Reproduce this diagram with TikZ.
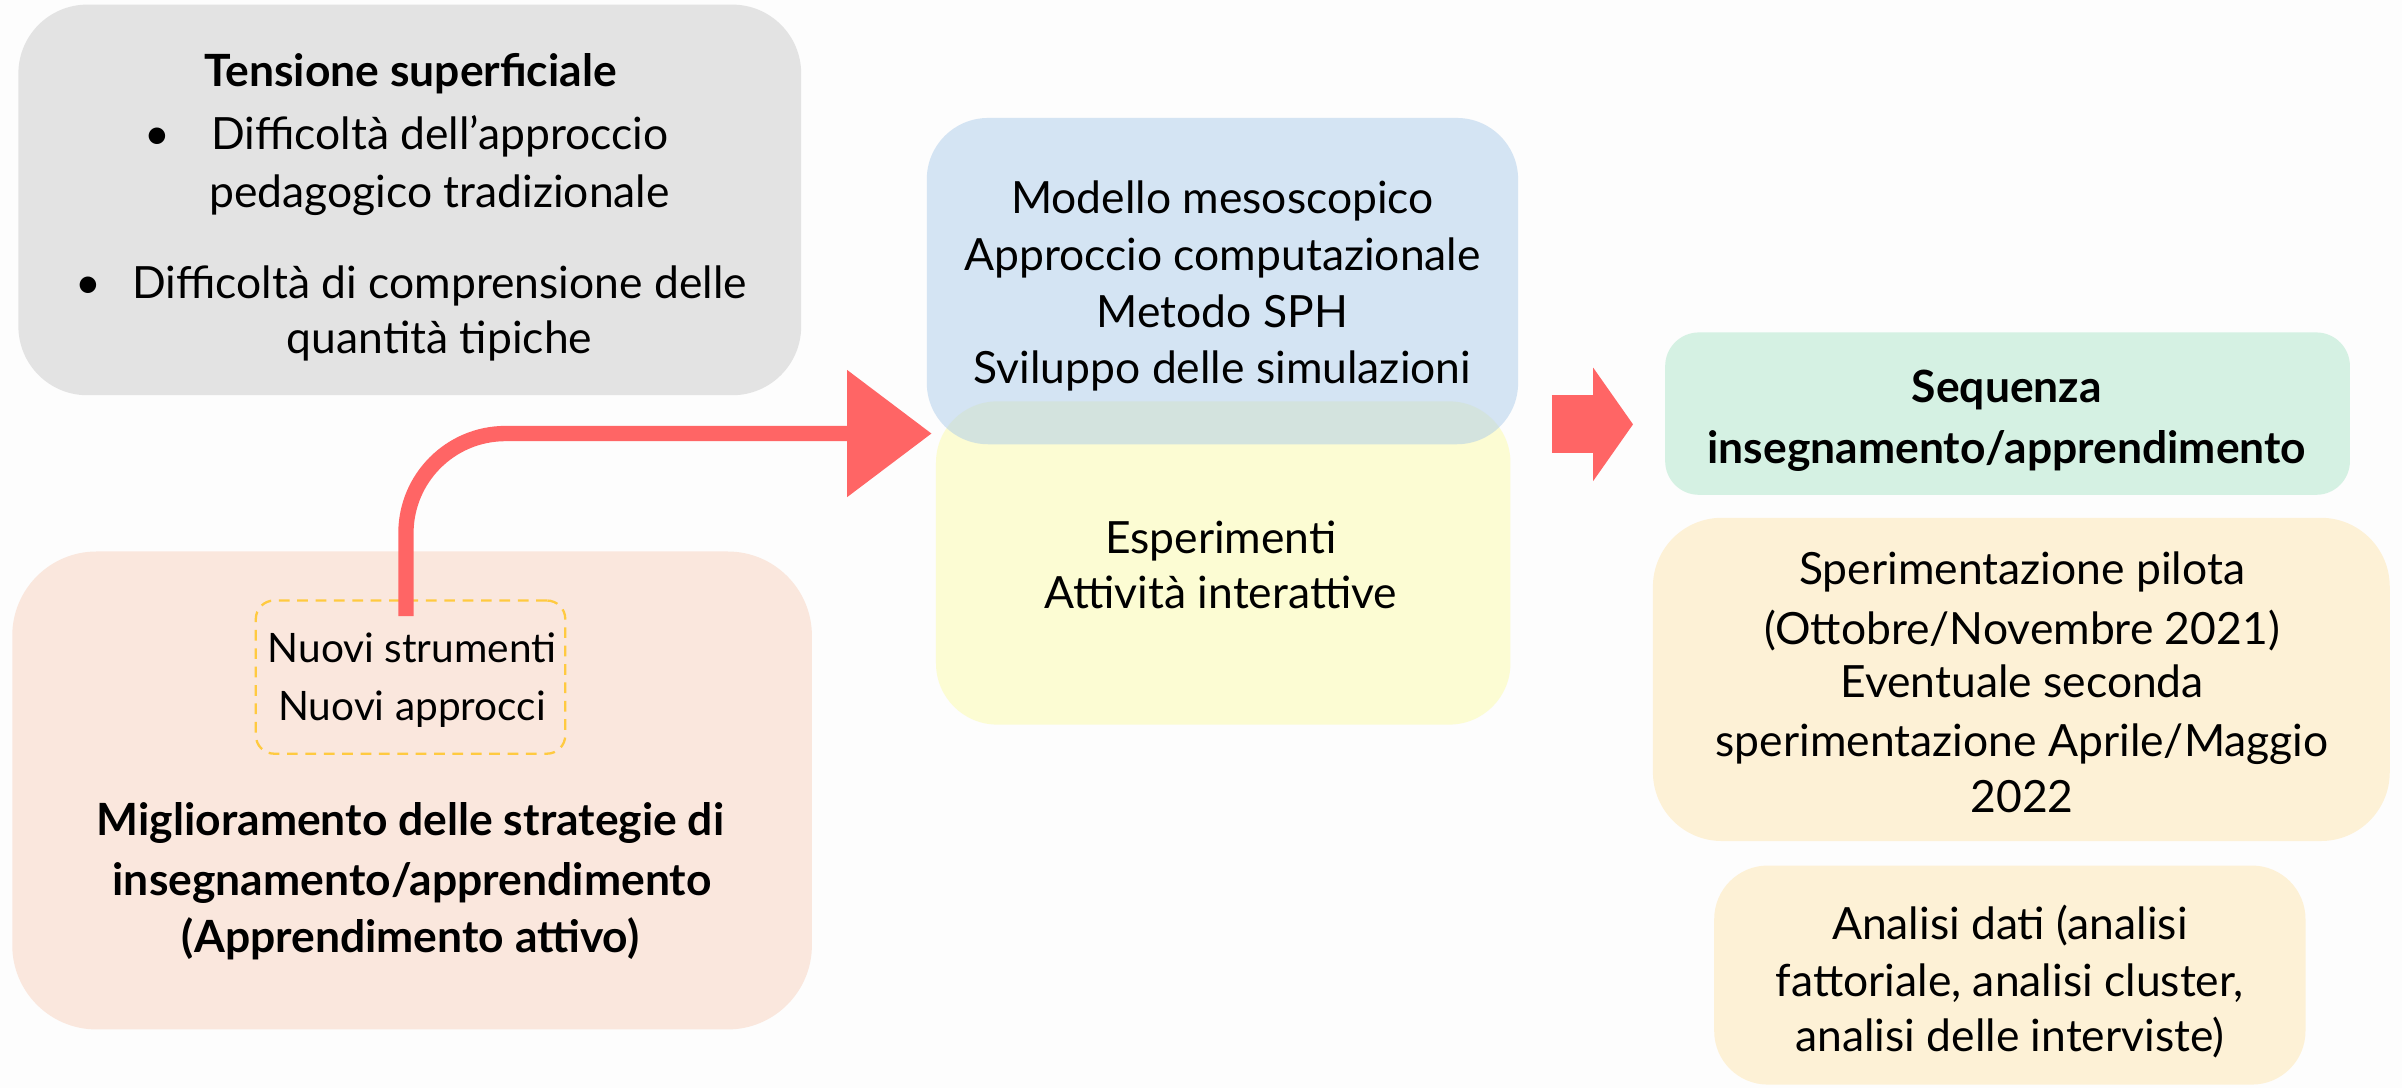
\documentclass[tikz,border=0pt]{standalone}
\usepackage{fontspec}
\setmainfont{Lato}
\usetikzlibrary{arrows.meta}
\definecolor{bgc}{HTML}{FDFDFD}
\definecolor{grayc}{HTML}{E3E3E3}
\definecolor{peachc}{HTML}{FAE7DD}
\definecolor{bluec}{RGB}{172,204,234}
\definecolor{yellowc}{HTML}{FCFCD3}
\definecolor{greenc}{HTML}{D5F1E3}
\definecolor{creamc}{HTML}{FDF1D6}
\definecolor{redc}{HTML}{FF6565}
\definecolor{dashc}{HTML}{FFCA40}
\begin{document}
\begin{tikzpicture}[x=1pt,y=-1pt,
  panel/.style={rectangle,inner sep=0pt,draw=none},
  txt/.style={anchor=mid,inner sep=0pt,yshift=-7pt,font=\fontsize{29}{38}\selectfont},
  btxt/.style={txt,font=\fontsize{29}{38}\selectfont\bfseries},
  stxt/.style={txt,font=\fontsize{26.5}{34}\selectfont}]
\fill[bgc] (0,0) rectangle (1568,710);
\useasboundingbox (0,0) rectangle (1568,710);
% left boxes
\node[panel,fill=grayc,rounded corners=45pt,minimum width=511pt,minimum height=255pt] (grayb) at (267.5,130.5) {};
\node[panel,fill=peachc,rounded corners=55pt,minimum width=522pt,minimum height=312pt] (peachb) at (269,516) {};
\node[panel,draw=dashc,line width=1.5pt,dash pattern=on 7pt off 5pt,rounded corners=12pt,minimum width=202pt,minimum height=100pt] (dashb) at (268,442) {};
% middle boxes
\node[panel,fill=yellowc,rounded corners=40pt,minimum width=375pt,minimum height=211pt] (yellowb) at (798.5,367.5) {};
\node[panel,fill=bluec,fill opacity=0.5,rounded corners=40pt,minimum width=386pt,minimum height=213pt] (blueb) at (798,183.5) {};
% right boxes
\node[panel,fill=greenc,rounded corners=22pt,minimum width=447pt,minimum height=106pt] (greenb) at (1310.5,270) {};
\node[panel,fill=creamc,rounded corners=45pt,minimum width=481pt,minimum height=211pt] (creamb) at (1319.5,443.5) {};
\node[panel,fill=creamc,rounded corners=35pt,minimum width=386pt,minimum height=143pt] (creamc2) at (1312,636.5) {};
% arrows
\coordinate (tipA) at (608,283);
\draw[redc,line width=10pt,rounded corners=65pt,-{Triangle[length=55pt,width=83pt,line width=0pt]}]
  ([xshift=-3pt,yshift=-11pt]dashb.north) |- (tipA);
\coordinate (sa1) at (1013,277);
\coordinate (sa2) at (1066,277);
\draw[redc,line width=38pt,-{Triangle[length=26pt,width=74pt,line width=0pt]}] (sa1) -- (sa2);
% texts gray
\node[btxt] (g0) at (268,47) {Tensione superficiale};
\node[txt] (gb1) at (103,88) {•};
\node[txt] (g1) at (287,88) {Difficoltà dell’approccio};
\node[txt] (g2) at (287,126) {pedagogico tradizionale};
\node[txt] (gb2) at (58,185) {•};
\node[txt] (g3) at (287,185) {Difficoltà di comprensione delle};
\node[txt] (g4) at (287,221) {quantità tipiche};
% texts peach
\node[stxt] (p1) at (269,423) {Nuovi strumenti};
\node[stxt] (p2) at (269,461) {Nuovi approcci};
\node[btxt] (p3) at (268,536) {Miglioramento delle strategie di};
\node[btxt] (p4) at (269,575) {insegnamento/apprendimento};
\node[btxt] (p5) at (268,612) {(Apprendimento attivo)};
% texts blue / yellow
\node[txt] (b1) at (798,130) {Modello mesoscopico};
\node[txt] (b2) at (798,167) {Approccio computazionale};
\node[txt] (b3) at (798,204) {Metodo SPH};
\node[txt] (b4) at (798,241) {Sviluppo delle simulazioni};
\node[txt] (y1) at (797,352) {Esperimenti};
\node[txt] (y2) at (797,388) {Attività interattive};
% texts right
\node[btxt] (s1) at (1310,253) {Sequenza};
\node[btxt] (s2) at (1310,293) {insegnamento/apprendimento};
\node[txt] (c1) at (1320,372) {Sperimentazione pilota};
\node[txt] (c2) at (1320,411) {(Ottobre/Novembre 2021)};
\node[txt] (c3) at (1320,446) {Eventuale seconda};
\node[txt] (c4) at (1320,484) {sperimentazione Aprile/Maggio};
\node[txt] (c5) at (1320,521) {2022};
\node[txt] (d1) at (1312,604) {Analisi dati (analisi};
\node[txt] (d2) at (1312,641) {fattoriale, analisi cluster,};
\node[txt] (d3) at (1312,677) {analisi delle interviste)};
\end{tikzpicture}
\end{document}
